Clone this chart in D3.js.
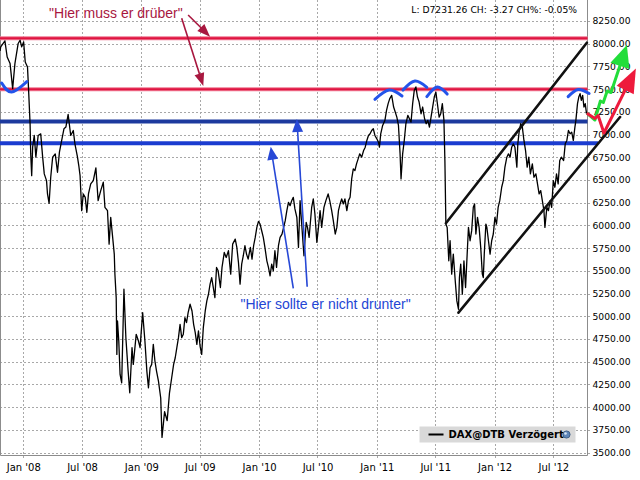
<!DOCTYPE html>
<html><head><meta charset="utf-8">
<script src="https://cdn.jsdelivr.net/npm/d3@7"></script>
<style>body{margin:0;background:#fff}svg{display:block}</style>
</head><body>
<svg id="chart" width="640" height="480"></svg>
<script>
// ---------- DATA ----------
// days counted from 2007-10-01 (UTC), DAX close
const baseDay = Date.UTC(2007, 9, 1);
const days = [20,22,35,42,51,59,66,76,82,87,93,98,105,108,113,115,118,121,126,131,138,146,152,157,164,167,172,177,183,191,198,204,211,218,224,231,239,247,252,260,264,268,273,278,284,289,294,301,309,317,324,332,340,345,353,358,363,369,374,376,380,382,384,388,392,397,404,410,417,422,429,433,442,449,454,462,469,475,480,485,490,495,500,505,511,518,522,530,538,545,552,558,563,568,573,578,583,588,593,598,603,609,615,620,625,630,635,640,645,650,656,661,666,671,676,681,686,691,696,703,708,715,721,728,735,741,749,754,759,764,769,774,779,784,789,796,801,806,811,816,821,826,831,836,841,847,852,857,862,867,872,877,883,888,894,899,904,909,914,919,924,929,934,940,945,950,955,962,969,973,978,986,991,996,1002,1007,1012,1017,1024,1030,1037,1042,1048,1053,1059,1064,1069,1074,1079,1084,1089,1095,1100,1105,1110,1115,1120,1125,1130,1135,1141,1147,1152,1157,1162,1167,1172,1177,1182,1188,1193,1196,1200,1206,1213,1218,1223,1228,1234,1240,1245,1250,1255,1260,1263,1268,1273,1278,1284,1289,1294,1299,1304,1309,1314,1319,1325,1330,1336,1341,1346,1351,1356,1361,1366,1371,1375,1381,1386,1391,1396,1399,1402,1406,1411,1415,1420,1425,1431,1436,1441,1444,1448,1453,1458,1463,1466,1472,1477,1482,1487,1491,1495,1500,1505,1510,1515,1518,1521,1526,1529,1534,1539,1544,1549,1554,1559,1564,1569,1575,1580,1585,1591,1596,1601,1606,1611,1616,1622,1625,1629,1634,1639,1644,1649,1654,1659,1664,1670,1675,1681,1686,1691,1696,1701,1706,1709,1715,1720,1725,1730,1735,1740,1745,1750,1755,1760,1767,1772,1777,1782,1787,1792,1797,1802,1805,1810,1814,1818,1822,1826,1830,1834,1838];
const closes = [7920,7965,8031,7854,7781,7505,7781,8002,8038,7965,8020,7799,7744,7523,7118,6787,6548,6861,6990,6751,6990,7008,6751,6567,6493,6346,6243,6530,6751,6787,6585,6806,6935,7063,7082,7222,6990,7045,6898,6751,6659,6548,6162,6346,6309,6144,6346,6456,6493,6633,6272,6383,6475,6199,6162,5794,6088,5868,5684,5463,5205,4580,4948,4727,4359,4267,5297,4764,4396,4157,4654,4470,4801,4727,4654,5040,4727,4396,4212,4433,4470,4690,4507,4396,4286,4100,3666,3950,3850,4150,4323,4470,4543,4654,4764,4911,4764,4801,4985,4930,5040,5132,5058,4911,4819,4690,4838,4672,4580,4874,5058,5169,5242,5353,5426,5316,5206,5537,5500,5316,5537,5702,5647,5721,5463,5794,5849,5757,5592,5353,5574,5666,5776,5684,5629,5757,5629,5776,5868,5978,6045,6015,5941,5868,5757,5610,5537,5445,5574,5500,5721,5537,5776,5868,5904,5978,6052,6162,6254,6217,6272,6309,6181,6089,5757,6273,6015,5666,6034,5978,5868,6199,6291,6126,5813,5978,6162,5978,6199,6273,6346,6273,6162,6052,5905,5978,6162,6236,6291,6236,6291,6162,6273,6309,6512,6622,6604,6677,6732,6788,6751,6824,6861,6935,6990,7008,7045,7064,6990,6953,6916,6861,7008,7100,7156,7266,7340,7395,7432,7303,7248,7192,7100,6788,6512,6788,6935,7119,7211,7174,7137,7340,7487,7524,7413,7358,7229,7303,7174,7119,7156,7082,7192,7303,7413,7468,7358,7192,7229,7340,7156,6700,6015,5978,5610,5831,5463,5684,5390,5169,5077,5426,5574,5243,5610,5316,5537,5978,5831,5942,6199,6236,5905,6088,5978,5758,5463,5426,5684,6015,5978,5831,5684,5831,5905,6088,6015,6199,6272,6420,6493,6641,6751,6788,6751,6861,6898,6861,6641,6898,7027,7119,7082,6935,6824,6641,6751,6567,6677,6530,6567,6457,6346,6383,6272,6162,5978,6199,6162,6272,6199,6493,6420,6567,6457,6714,6751,6714,6898,6935,7045,7008,7027,6935,7082,7156,7340,7413,7450,7376,7432,7303,7340,7231];

const yTickValues = [3500,3750,4000,4250,4500,4750,5000,5250,5500,5750,6000,6250,6500,6750,7000,7250,7500,7750,8000,8250];
const xTickDates = ["2008-01-01","2008-07-01","2009-01-01","2009-07-01","2010-01-01","2010-07-01","2011-01-01","2011-07-01","2012-01-01","2012-07-01"];
const xTickLabels = ["Jan '08","Jul '08","Jan '09","Jul '09","Jan '10","Jul '10","Jan '11","Jul '11","Jan '12","Jul '12"];

const resistanceLevels = [8060, 7500];
const supportLevels = [7145, 6905];
const channelUpper = [[1402, 6023], [1839, 8011]];
const channelLower = [[1441, 5039], [1942, 7193]];
const bottomArc = [[25, 7567], [56, 7468], [103, 7582]];
const topArcs = [
  [[1182, 7388], [1226, 7490], [1266, 7424]],
  [[1269, 7490], [1306, 7589], [1343, 7520]],
  [[1343, 7417], [1375, 7523], [1406, 7446]],
  [[1781, 7417], [1812, 7496], [1846, 7452]]
];
const bullPath = [[1840, 7234], [1864, 7160], [1881, 7369], [1890, 7353], [1902, 7479], [1914, 7463], [1963, 7986]];
const bearPath = [[1839, 7234], [1864, 7177], [1874, 7210], [1892, 7017], [1991, 7727]];
const redNotes = [[[603, 8316], [671, 8077]], [[583, 8280], [650, 7534]]];
const blueNotes = [[[929, 5307], [859, 6866]], [[972, 5325], [940, 7171]]];
const redLabel = {text: "\"Hier muss er drüber\"", day: 379, value: 8283};
const blueLabel = {text: "\"Hier sollte er nicht drunter\"", day: 1029, value: 5085};
const headerText = "L: D7231.26 CH: -3.27 CH%: -0.05%";
const legendText = "DAX@DTB Verzögert";

// ---------- CHART ----------
const svg = d3.select('#chart');
const plot = {left: 0, right: 587.5, top: 0, bottom: 455.5};
const toDate = d => new Date(baseDay + d * 864e5);
const x = d3.scaleUtc()
  .domain([new Date(Date.UTC(2008, 0, 1)), new Date(Date.UTC(2012, 6, 1))])
  .range([23.3, 553.3]);
const y = d3.scaleLinear().domain([3500, 8250]).range([452.5, 21]);
const px = p => [x(toDate(p[0])), y(p[1])];

svg.append('rect').attr('width', 640).attr('height', 480).attr('fill', '#fff');

// grid
const grid = svg.append('g').attr('stroke', '#a8a8a8').attr('stroke-dasharray', '2,2').attr('stroke-width', 1);
yTickValues.forEach(v => {
  const yy = Math.round(y(v)) + 0.5;
  grid.append('line').attr('x1', plot.left).attr('x2', 591).attr('y1', yy).attr('y2', yy);
});
xTickDates.forEach(s => {
  const xx = Math.round(x(new Date(s + 'T00:00:00Z'))) + 0.5;
  grid.append('line').attr('x1', xx).attr('x2', xx).attr('y1', plot.top).attr('y2', 459);
});

// frame
const frame = svg.append('g').attr('stroke', '#8c8c8c').attr('stroke-width', 1).attr('fill', 'none');
frame.append('path').attr('d', `M0.5,0V${plot.bottom}H${plot.right}V0`);

// axes
const yAxis = d3.axisRight(y).tickValues(yTickValues).tickFormat(d => d.toFixed(2)).tickSize(0).tickPadding(5);
const gy = svg.append('g').attr('transform', `translate(${plot.right},0)`).call(yAxis);
gy.select('.domain').remove();
gy.selectAll('text').attr('font-family', 'DejaVu Sans').attr('font-size', 9.2).attr('fill', '#000');

const xAxis = d3.axisBottom(x).tickValues(xTickDates.map(s => new Date(s + 'T00:00:00Z')))
  .tickFormat((d, i) => xTickLabels[i]).tickSize(0).tickPadding(8);
const gx = svg.append('g').attr('transform', `translate(0,${plot.bottom})`).call(xAxis);
gx.select('.domain').remove();
gx.selectAll('text').attr('font-family', 'DejaVu Sans').attr('font-size', 10).attr('fill', '#000');

// horizontal levels
resistanceLevels.forEach(v => {
  svg.append('line').attr('x1', 0).attr('x2', plot.right).attr('y1', y(v)).attr('y2', y(v))
    .attr('stroke', '#f07a93').attr('stroke-width', 4);
  svg.append('line').attr('x1', 0).attr('x2', plot.right).attr('y1', y(v)).attr('y2', y(v))
    .attr('stroke', '#df1440').attr('stroke-width', 2);
});
svg.append('line').attr('x1', 0).attr('x2', plot.right).attr('y1', y(supportLevels[0])).attr('y2', y(supportLevels[0]))
  .attr('stroke', '#1d3a9e').attr('stroke-width', 4);
svg.append('line').attr('x1', 0).attr('x2', 598).attr('y1', y(supportLevels[1])).attr('y2', y(supportLevels[1]))
  .attr('stroke', '#1b3cd0').attr('stroke-width', 4);

// price line
const series = days.map((d, i) => [d, closes[i]]);
svg.append('path').attr('d', d3.line().x(p => x(toDate(p[0]))).y(p => y(p[1]))(series))
  .attr('fill', 'none').attr('stroke', '#000').attr('stroke-width', 1.3).attr('stroke-linejoin', 'round');

// arcs
const arcLine = d3.line().curve(d3.curveNatural);
[bottomArc, ...topArcs].forEach(a => {
  svg.append('path').attr('d', arcLine(a.map(px))).attr('fill', 'none')
    .attr('stroke', '#2354ea').attr('stroke-width', 3).attr('stroke-linecap', 'round');
});

// channel
[channelUpper, channelLower].forEach(c => {
  const pts = c.map(px);
  svg.append('line').attr('x1', pts[0][0]).attr('y1', pts[0][1]).attr('x2', pts[1][0]).attr('y2', pts[1][1])
    .attr('stroke', '#111').attr('stroke-width', 2.6).attr('stroke-linecap', 'round');
});

// arrows
function arrow(pts, color, width, headLen, headW) {
  const n = pts.length;
  const [tx, ty] = pts[n - 1], [qx, qy] = pts[n - 2];
  const dx = tx - qx, dy = ty - qy, L = Math.hypot(dx, dy);
  const ux = dx / L, uy = dy / L;
  const bx = tx - ux * headLen, by = ty - uy * headLen;
  const shaft = pts.slice(0, n - 1).concat([[tx - ux * headLen * 0.6, ty - uy * headLen * 0.6]]);
  svg.append('path').attr('d', d3.line()(shaft)).attr('fill', 'none').attr('stroke', color)
    .attr('stroke-width', width).attr('stroke-linejoin', 'round');
  svg.append('path').attr('d', d3.line()([[tx, ty], [bx - uy * headW / 2, by + ux * headW / 2],
      [bx + uy * headW / 2, by - ux * headW / 2]]) + 'Z').attr('fill', color);
}
arrow(bullPath.map(px), '#22dd3a', 3, 22, 20);
arrow(bearPath.map(px), '#ee1a3c', 3, 24, 19);
redNotes.forEach(a => arrow(a.map(px), '#a8173f', 1.6, 13, 10));
blueNotes.forEach(a => arrow(a.map(px), '#2748d6', 1.6, 13, 11));

// labels
svg.append('text').attr('x', px([redLabel.day, redLabel.value])[0]).attr('y', px([redLabel.day, redLabel.value])[1])
  .attr('text-anchor', 'middle').attr('font-family', 'Liberation Sans').attr('font-size', 14)
  .attr('fill', '#a8173f').text(redLabel.text);
svg.append('text').attr('x', px([blueLabel.day, blueLabel.value])[0]).attr('y', px([blueLabel.day, blueLabel.value])[1])
  .attr('text-anchor', 'middle').attr('font-family', 'Liberation Sans').attr('font-size', 14)
  .attr('fill', '#2446d4').text(blueLabel.text);

svg.append('text').attr('x', 577).attr('y', 12.8).attr('text-anchor', 'end')
  .attr('font-family', 'DejaVu Sans').attr('font-size', 9.2).attr('fill', '#000').text(headerText);

// legend
const lg = svg.append('g').attr('transform', 'translate(419.5,426.5)');
lg.append('rect').attr('width', 156).attr('height', 16).attr('fill', '#d9d9d9');
lg.append('line').attr('x1', 9).attr('x2', 24).attr('y1', 8).attr('y2', 8).attr('stroke', '#000').attr('stroke-width', 2);
lg.append('text').attr('x', 29).attr('y', 11.8).attr('font-family', 'DejaVu Sans').attr('font-weight', 'bold')
  .attr('font-size', 10).attr('fill', '#000').text(legendText);
lg.append('circle').attr('cx', 147).attr('cy', 8).attr('r', 3.6).attr('fill', '#5f86b8').attr('stroke', '#2f4f7a').attr('stroke-width', 0.8);
lg.append('circle').attr('cx', 146).attr('cy', 7).attr('r', 1.3).attr('fill', '#d8e6f4');
</script>
</body></html>
